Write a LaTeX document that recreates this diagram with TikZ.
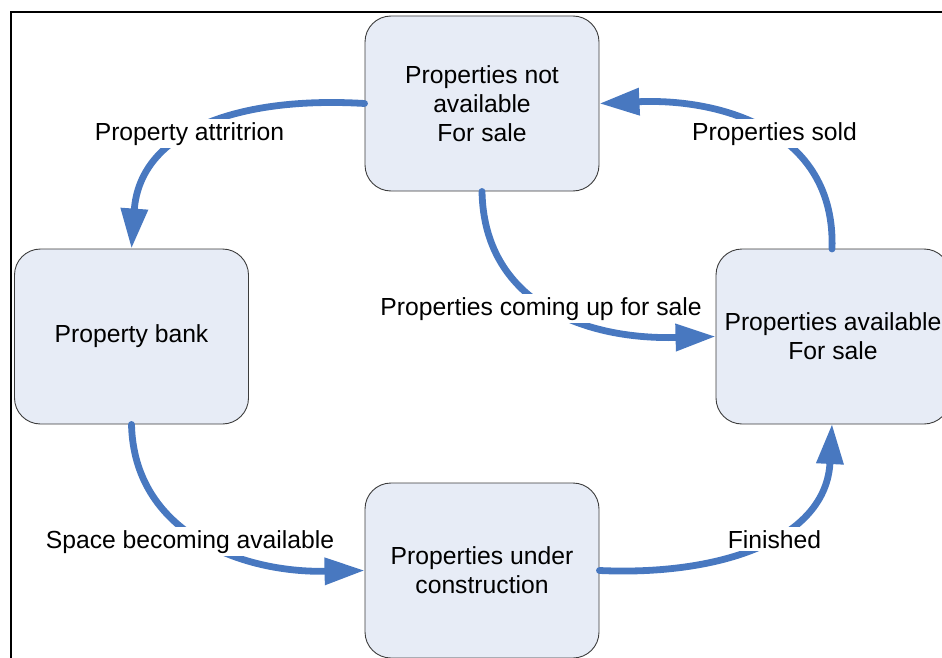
\documentclass[tikz,border=0pt]{standalone}
\usepackage{fontspec}
\setmainfont{Liberation Sans}
\usetikzlibrary{arrows.meta}
\definecolor{flowblue}{RGB}{72,120,192}
\definecolor{boxfill}{RGB}{231,236,246}
\definecolor{boxline}{RGB}{60,60,60}
\begin{document}
\begin{tikzpicture}[x=1pt,y=-1pt,
  stage/.style={draw=boxline,line width=0.9pt,fill=boxfill,rounded corners=26pt,
    minimum width=234pt,minimum height=175pt,align=center,inner sep=0pt,
    font=\fontsize{24.7}{29}\selectfont},
  flow/.style={draw=flowblue,line width=6.8pt,line cap=round,
    -{Triangle[length=40pt,width=26pt]}},
  flowlabel/.style={fill=white,inner xsep=1pt,inner ysep=3pt,anchor=base,
    font=\fontsize{24.7}{29}\selectfont}]
\useasboundingbox (0,0) rectangle (942,658);
\draw[line width=2pt] (11,658) -- (11,12) -- (945,12);
\node[stage] (top) at (482,103.5) {Properties not\\available\\For sale};
\node[stage] (bank) at (131.5,336.5) {Property bank};
\node[stage] (avail) at (833,336.5) {Properties available\\For sale};
\node[stage] (constr) at (482,570.5) {Properties under\\construction};
\coordinate (availN) at (832,249);
\coordinate (availS) at (832,424);
\draw[flow] (top.west) .. controls (240,96) and (140,130) .. (bank.north);
\draw[flow] (availN) .. controls (836,130) and (720,98) .. (top.east);
\draw[flow] (top.south) .. controls (484,300) and (580,340) .. (avail.west);
\draw[flow] (bank.south) .. controls (134,532) and (240,573) .. (constr.west);
\draw[flow] (constr.east) .. controls (720,576) and (826,540) .. (availS);
\node[flowlabel] (l1) at (189.5,140) {Property attritrion};
\node[flowlabel] (l2) at (774.5,140) {Properties sold};
\node[flowlabel] (l3) at (541,315) {Properties coming up for sale};
\node[flowlabel] (l4) at (190,548) {Space becoming available};
\node[flowlabel] (l5) at (774.5,548) {Finished};
\end{tikzpicture}
\end{document}
